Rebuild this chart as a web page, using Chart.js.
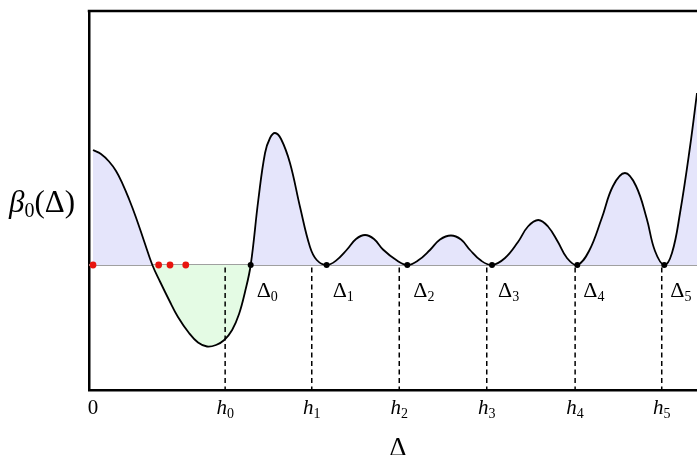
<!DOCTYPE html>
<html>
<head>
<meta charset="utf-8">
<script src="https://cdn.jsdelivr.net/npm/chart.js@4"></script>
<style>
  body { margin: 0; background: #fff; }
</style>
</head>
<body>
<canvas id="beta" width="697" height="455"></canvas>
<script>
// curve beta_0(Delta)
const curveX = [0, 0.091, 0.183, 0.263, 0.335, 0.411, 0.488, 0.583, 0.678,
  0.768, 0.869, 0.971, 1.097, 1.2, 1.303, 1.406, 1.5, 1.59, 1.669, 1.737, 1.802,
  1.889, 1.966, 2.023, 2.08, 2.149, 2.251, 2.366, 2.48, 2.557, 2.67,
  2.777, 2.903, 3.006, 3.109, 3.211, 3.314, 3.474, 3.592,
  3.714, 3.851, 3.966, 4.091, 4.206, 4.309, 4.434, 4.56,
  4.709, 4.857, 4.971, 5.089, 5.2, 5.314, 5.417, 5.535,
  5.669, 5.813, 5.943, 6.08, 6.206, 6.328, 6.423, 6.529,
  6.617, 6.709, 6.823, 6.903];
const curveY = [1.15, 1.11, 1.035, 0.94, 0.817, 0.66, 0.483, 0.24, 0,
  -0.17, -0.35, -0.52, -0.68, -0.775, -0.815, -0.8, -0.75, -0.65, -0.49, -0.27, 0,
  0.65, 1.12, 1.27, 1.32, 1.26, 1.02, 0.58, 0.18, 0.05, 0,
  0.044, 0.155, 0.26, 0.3, 0.26, 0.155, 0.044, 0,
  0.044, 0.15, 0.255, 0.295, 0.255, 0.15, 0.044, 0,
  0.07, 0.23, 0.385, 0.45, 0.385, 0.23, 0.07, 0,
  0.14, 0.465, 0.79, 0.92, 0.79, 0.465, 0.14, 0,
  0.12, 0.52, 1.18, 1.72];

// zeros Delta_n and the h_n ticks
const deltaX = [1.802, 2.67, 3.592, 4.56, 5.535, 6.529];
const deltaSub = ['0', '1', '2', '3', '4', '5'];
const hX = [1.51, 2.5, 3.5, 4.5, 5.51, 6.5];
const redX = [0, 0.75, 0.88, 1.06];

const tickValues = [0, 1.51, 2.5, 3.5, 4.5, 5.51, 6.5];
const tickBase = ['0', 'h', 'h', 'h', 'h', 'h', 'h'];
const tickSub = ['', '0', '1', '2', '3', '4', '5'];

const xMin = -0.046, xMax = 6.903;
const yMin = -1.25, yMax = 2.54;

const serif = '"Liberation Serif", "DejaVu Serif", serif';

function drawMath(ctx, x, y, parts, align) {
  // parts: [text, size, italic, dy]
  let w = 0;
  parts.forEach(p => {
    ctx.font = (p[2] ? 'italic ' : '') + p[1] + 'px ' + serif;
    w += ctx.measureText(p[0]).width;
  });
  let cx = align === 'center' ? x - w / 2 : x;
  ctx.textAlign = 'left';
  ctx.textBaseline = 'alphabetic';
  parts.forEach(p => {
    ctx.font = (p[2] ? 'italic ' : '') + p[1] + 'px ' + serif;
    ctx.fillText(p[0], cx, y + (p[3] || 0));
    cx += ctx.measureText(p[0]).width;
  });
}

const labelsPlugin = {
  id: 'labels',
  afterDraw(chart) {
    const ctx = chart.ctx;
    const area = chart.chartArea;
    const xs = chart.scales.x, ys = chart.scales.y;
    ctx.save();
    // top frame line
    ctx.strokeStyle = '#000';
    ctx.lineWidth = 2.5;
    ctx.beginPath();
    ctx.moveTo(area.left - 1.25, area.top);
    ctx.lineTo(area.right, area.top);
    ctx.stroke();

    ctx.fillStyle = '#000';
    // tick labels
    xs.ticks.forEach((t, i) => {
      const px = xs.getPixelForValue(t.value);
      const parts = [[tickBase[i], 21, tickBase[i] === 'h', 0]];
      if (tickSub[i]) parts.push([tickSub[i], 14, false, 4]);
      drawMath(ctx, px, 414, parts, 'center');
    });
    // Delta_n labels
    const y0 = ys.getPixelForValue(0);
    deltaX.forEach((d, i) => {
      const px = xs.getPixelForValue(d);
      drawMath(ctx, px + 6, y0 + 32, [['\u0394', 22, false, 0], [deltaSub[i], 14, false, 4]]);
    });
    // axis titles
    drawMath(ctx, 9, 212, [['\u03b2', 31, true, 0], ['0', 20, false, 5], ['(\u0394)', 31, false, 0]]);
    drawMath(ctx, 398, 456, [['\u0394', 27, false, 0]], 'center');
    ctx.restore();
  }
};

const datasets = [];

datasets.push({
  data: curveX.map((x, i) => ({ x: x, y: curveY[i] })),
  borderColor: '#000',
  borderWidth: 1.8,
  pointRadius: 0,
  tension: 0.4,
  fill: { target: { value: 0 }, above: 'rgb(229,229,251)', below: 'rgb(228,251,228)' },
  order: 3
});

datasets.push({
  data: [{ x: xMin, y: 0 }, { x: xMax, y: 0 }],
  borderColor: '#a0a0a0',
  borderWidth: 2,
  pointRadius: 0,
  order: 4
});

hX.forEach(h => {
  datasets.push({
    data: [{ x: h, y: -0.025 }, { x: h, y: yMin }],
    borderColor: '#000',
    borderWidth: 1.5,
    borderDash: [5, 3.5],
    pointRadius: 0,
    order: 2
  });
});

datasets.push({
  data: deltaX.map(d => ({ x: d, y: 0 })),
  showLine: false,
  pointRadius: 3,
  pointBackgroundColor: '#000',
  pointBorderWidth: 0,
  order: 1
});

datasets.push({
  data: redX.map(r => ({ x: r, y: 0 })),
  showLine: false,
  pointRadius: 3.4,
  pointBackgroundColor: '#e8140e',
  pointBorderWidth: 0,
  order: 1
});

new Chart(document.getElementById('beta'), {
  type: 'line',
  data: { datasets: datasets },
  options: {
    responsive: false,
    animation: false,
    devicePixelRatio: 1,
    layout: { autoPadding: false, padding: { top: 11, right: 0, left: 0, bottom: 0 } },
    plugins: { legend: { display: false }, tooltip: { enabled: false } },
    scales: {
      x: {
        type: 'linear',
        min: xMin,
        max: xMax,
        grid: { display: false },
        border: { color: '#000', width: 2.5 },
        ticks: { display: false },
        afterBuildTicks: s => { s.ticks = tickValues.map(v => ({ value: v })); },
        afterFit: s => { s.height = 65; }
      },
      y: {
        min: yMin,
        max: yMax,
        grid: { display: false },
        border: { color: '#000', width: 2.5 },
        ticks: { display: false },
        afterFit: s => { s.width = 89; }
      }
    }
  },
  plugins: [labelsPlugin]
});
</script>
</body>
</html>
